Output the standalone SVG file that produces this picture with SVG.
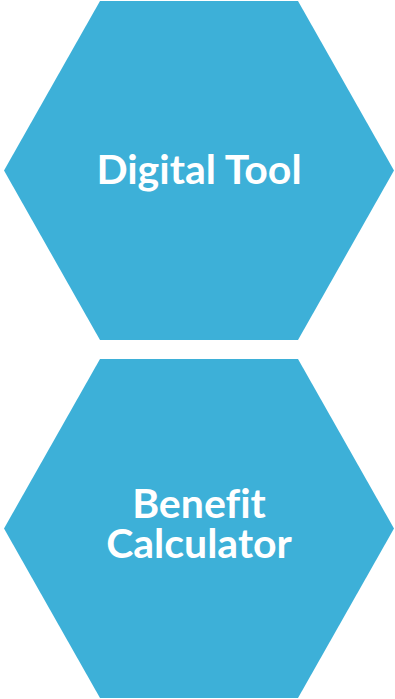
<svg xmlns="http://www.w3.org/2000/svg" width="395" height="699" viewBox="0 0 395 699">
<style>
.hex{fill:#3DB0D8;}
.t{font-family:Lato,"Open Sans",sans-serif;font-weight:bold;font-size:41px;fill:#ffffff;text-anchor:middle;font-variant-ligatures:none;}
</style>
<rect width="395" height="699" fill="#ffffff"/>
<g id="node-digital-tool">
<polygon class="hex" points="100,1 298,1 394,170.5 298,340 100,340 4,170.5"/>
<text class="t" x="199" y="184">Digital Tool</text>
</g>
<g id="node-benefit-calculator">
<polygon class="hex" points="100,359 298,359 394,528.5 298,698 100,698 4,528.5"/>
<text class="t" x="199" y="518">Benefit</text>
<text class="t" x="199" y="558">Calculator</text>
</g>
<g id="connectors"></g>
</svg>
